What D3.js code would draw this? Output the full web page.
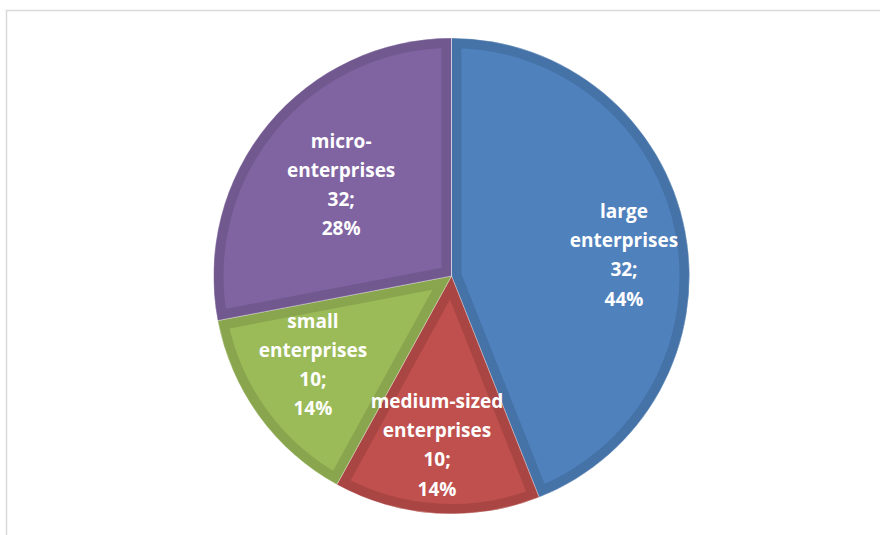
<!DOCTYPE html>
<html>
<head>
<meta charset="utf-8">
<script src="https://cdn.jsdelivr.net/npm/d3@7"></script>
<style>
  body { margin: 0; background: #fff; }
  svg { display: block; }
</style>
</head>
<body>
<div id="chart"></div>
<script>
const w = 880, h = 535;

// data (slice sizes follow the percentages)
const categories = ['large enterprises', 'medium-sized enterprises', 'small enterprises', 'micro-enterprises'];
const counts = [32, 10, 10, 32];
const percents = [44, 14, 14, 28];
const labelLines = [
  ['large', 'enterprises'],
  ['medium-sized', 'enterprises'],
  ['small', 'enterprises'],
  ['micro-', 'enterprises']
];

const fills = ['#4F81BD', '#C0504D', '#9BBB59', '#8064A2'];
const edges = ['#4572A7', '#A94643', '#89A54E', '#71588F'];
// label placement (fraction of radius, angle in degrees clockwise from top)
const labelRadius = [0.73, 0.713, 0.692, 0.601];
const labelAngle = [83.1, 184.9, 237.3, 309.5];

const cx = 451.5, cy = 276, r = 238;

const svg = d3.select('#chart')
  .append('svg')
  .attr('width', w)
  .attr('height', h);

// chart area frame
svg.append('path')
  .attr('d', `M6.5,${h} V10.5 H${w}`)
  .attr('fill', 'none')
  .attr('stroke', '#d9d9d9')
  .attr('stroke-width', 1.5);

const data = categories.map((c, i) => ({cat: c, count: counts[i], pct: percents[i], i}));

const pie = d3.pie()
  .value(d => d.pct)
  .sort(null);

const arc = d3.arc().innerRadius(0).outerRadius(r);

const g = svg.append('g')
  .attr('transform', `translate(${cx},${cy})`);

const arcs = pie(data);

const defs = svg.append('defs');
arcs.forEach((a, i) => {
  defs.append('clipPath')
    .attr('id', 'clip' + i)
    .append('path')
    .attr('d', arc(a));
});

const slice = g.selectAll('g.slice')
  .data(arcs)
  .enter()
  .append('g')
  .attr('class', 'slice');

slice.append('path')
  .attr('d', arc)
  .attr('fill', d => fills[d.data.i])
  .attr('stroke', d => edges[d.data.i])
  .attr('stroke-width', 20)
  .attr('stroke-linejoin', 'miter')
  .attr('clip-path', d => `url(#clip${d.data.i})`);

// thin light separators
slice.append('path')
  .attr('d', arc)
  .attr('fill', 'none')
  .attr('stroke', '#ffffff')
  .attr('stroke-opacity', 0.35)
  .attr('stroke-width', 1);

// labels on top of every slice
const labels = g.append('g').attr('class', 'labels');
const lineH = 29.2;
arcs.forEach(d => {
  const i = d.data.i;
  const a = labelAngle[i] * Math.PI / 180;
  const lx = r * labelRadius[i] * Math.sin(a);
  const ly = -r * labelRadius[i] * Math.cos(a);
  const lines = labelLines[i].concat([d.data.count + ';', d.data.pct + '%']);
  const t = labels.append('text')
    .attr('text-anchor', 'middle')
    .attr('fill', '#ffffff')
    .attr('font-family', 'Open Sans, sans-serif')
    .attr('font-weight', 'bold')
    .attr('font-size', '19px');
  lines.forEach((s, j) => {
    t.append('tspan')
      .attr('x', lx)
      .attr('y', ly + (j - (lines.length - 1) / 2) * lineH)
      .attr('dy', '0.35em')
      .text(s);
  });
});
</script>
</body>
</html>
